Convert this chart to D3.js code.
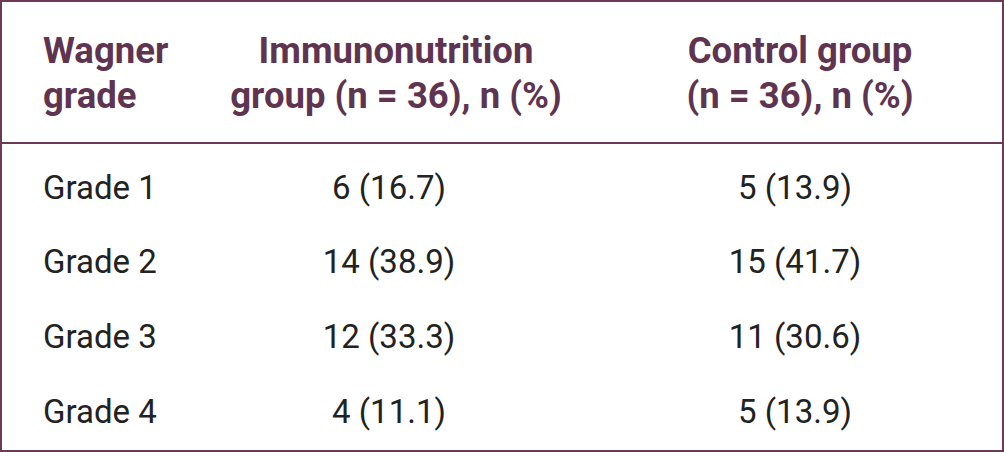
<!DOCTYPE html>
<html>
<head>
<meta charset="utf-8">
<script src="https://cdn.jsdelivr.net/npm/d3@7"></script>
<style>
  body { margin: 0; background: #fff; }
  svg { display: block; }
</style>
</head>
<body>
<svg width="1004" height="452"></svg>
<script>
const headers = [
    ['Wagner', 'grade'],
    ['Immunonutrition', 'group (n = 36), n (%)'],
    ['Control group', '(n = 36), n (%)'],
];
const grades = ['Grade 1', 'Grade 2', 'Grade 3', 'Grade 4'];
const immuno = ['6 (16.7)', '14 (38.9)', '12 (33.3)', '4 (11.1)'];
const control = ['5 (13.9)', '15 (41.7)', '11 (30.6)', '5 (13.9)'];

const w = 1004, h = 452;
const PURPLE = '#6b3a57';
const svg = d3.select('svg');

// frame
svg.append('rect')
    .attr('x', 1).attr('y', 1)
    .attr('width', w - 2).attr('height', h - 2)
    .attr('fill', 'none').attr('stroke', PURPLE).attr('stroke-width', 2);
svg.append('line')
    .attr('x1', 0).attr('x2', w)
    .attr('y1', 143).attr('y2', 143)
    .attr('stroke', PURPLE).attr('stroke-width', 2);

// column positions: first left aligned, others centred
const headCols = [
    { x: 43, anchor: 'start' },
    { x: 396, anchor: 'middle' },
    { x: 800, anchor: 'middle' },
];
const bodyCols = [
    { x: 43, anchor: 'start' },
    { x: 389, anchor: 'middle' },
    { x: 795, anchor: 'middle' },
];

const head = svg.append('g').selectAll('text')
    .data(headers)
    .enter()
    .append('text')
    .attr('x', (d, i) => headCols[i].x)
    .attr('text-anchor', (d, i) => headCols[i].anchor)
    .style('font-family', 'Roboto')
    .style('font-size', '36.5px')
    .style('font-weight', 700)
    .attr('fill', '#5e3450');
head.selectAll('tspan')
    .data(d => d)
    .enter()
    .append('tspan')
    .attr('x', function () { return d3.select(this.parentNode).attr('x'); })
    .attr('y', (d, i) => 63 + i * 45)
    .text(d => d);

const y = d3.scalePoint()
    .domain(grades)
    .range([187, 411]);

const rows = svg.append('g').selectAll('g')
    .data(grades.map((g, i) => [g, immuno[i], control[i]]))
    .enter()
    .append('g');
rows.selectAll('text')
    .data((d, i) => d.map(v => ({ v, g: grades[i] })))
    .enter()
    .append('text')
    .attr('x', (d, i) => bodyCols[i].x)
    .attr('y', d => y(d.g))
    .attr('dy', '0.35em')
    .attr('text-anchor', (d, i) => bodyCols[i].anchor)
    .style('font-family', 'Roboto')
    .style('font-size', '33px')
    .attr('fill', '#222')
    .text(d => d.v);
</script>
</body>
</html>
